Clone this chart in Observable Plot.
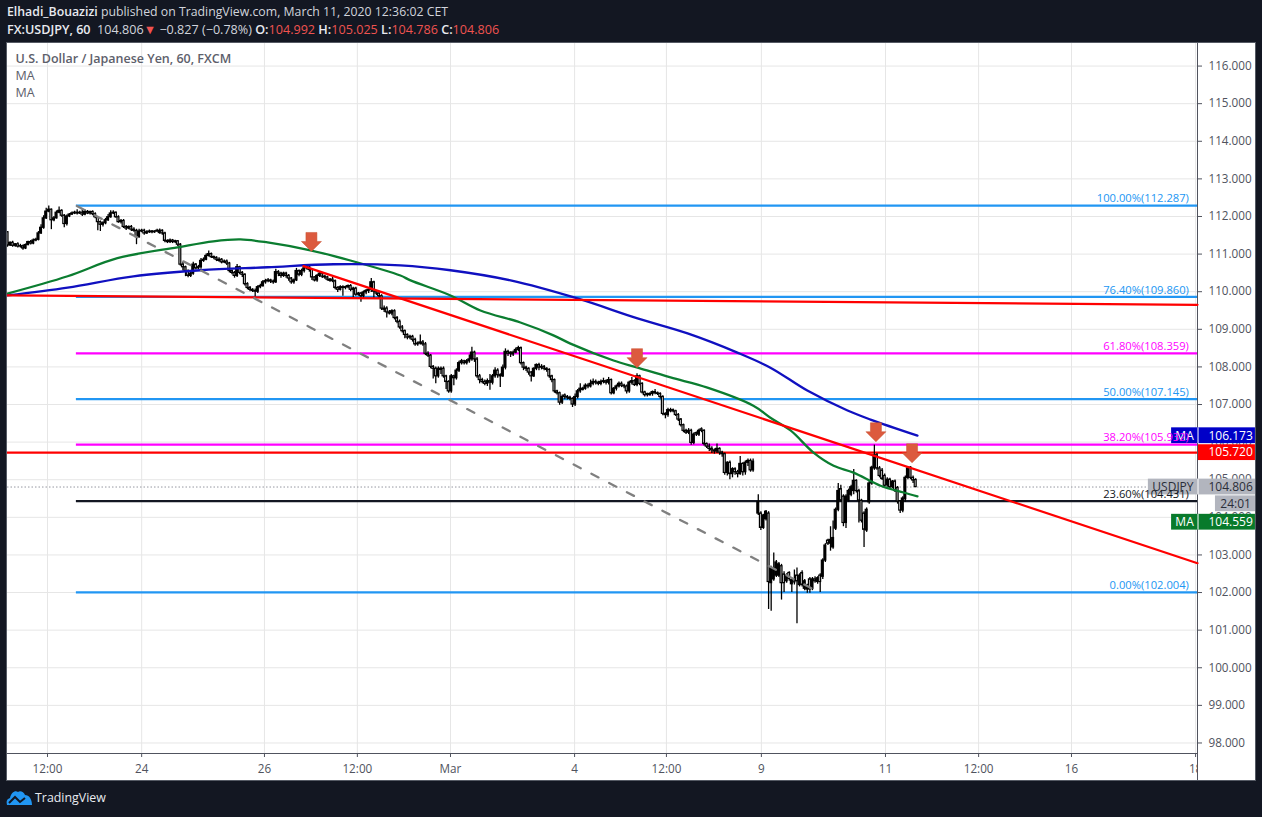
<!DOCTYPE html>
<html><head><meta charset="utf-8">
<script src="https://cdn.jsdelivr.net/npm/d3@7"></script>
<script src="https://cdn.jsdelivr.net/npm/@observablehq/plot@0.6"></script>
<style>
html,body{margin:0;padding:0;background:#131722;width:1262px;height:817px;overflow:hidden;font-family:"Open Sans",sans-serif}
#head{height:43px;box-sizing:border-box;padding:3px 0 0 7px;color:#d1d4dc;font-size:12.3px;line-height:18px;white-space:nowrap}
#head div+div{font-size:12.6px}
#head b{color:#e8eaf0;font-weight:600}#head i{font-style:normal;color:#ef5350}
#chart{margin-left:7px;width:1248px;height:737px;background:#fff;outline:1px solid #555a64;position:relative}
#chart svg{display:block}
#foot{display:flex;align-items:center;padding:9px 0 0 6px;color:#e8eaf0;font-size:12.4px}
#foot svg{margin-right:3px}
</style></head><body>
<div id="head"><div><b>Elhadi_Bouazizi</b> published on TradingView.com, March 11, 2020 12:36:02 CET</div>
<div><b>FX:USDJPY, 60</b>&nbsp; 104.806<i>▼</i> −0.827 (−0.78%) <b>O:</b><i>104.992</i> <b>H:</b><i>105.025</i> <b>L:</b><i>104.786</i> <b>C:</b><i>104.806</i></div></div>
<div id="chart"></div>
<div id="foot"><svg width="26" height="15" viewBox="0 0 26 15"><path d="M1 15C0 11 1 9 4 8C5 3 9 0 12 2C14 0 18 2 19 5C23 5 26 9 26 15Z" fill="#2196f3"/><path d="M3 13L9 7L14 12L19 8" fill="none" stroke="#131722" stroke-width="2"/></svg>TradingView</div>
<script>
const opens=[
111.58,111.23,111.30,111.22,111.26,111.20,111.21,111.15,111.24,111.32,
111.28,111.36,111.38,111.55,111.70,111.95,112.13,112.18,111.90,111.95,
112.10,112.15,112.02,111.80,112.00,112.05,112.08,112.10,112.08,112.10,
112.05,112.12,112.08,112.12,112.06,111.98,111.85,111.78,111.82,111.90,
111.98,112.08,112.10,111.98,111.85,111.88,111.72,111.68,111.72,111.65,
111.62,111.45,111.60,111.62,111.55,111.58,111.60,111.58,111.60,111.56,
111.62,111.55,111.35,111.32,111.36,111.32,111.34,111.25,110.72,110.65,
110.55,110.42,110.48,110.72,110.62,110.65,110.82,110.85,110.95,111.00,
110.92,110.90,110.82,110.85,110.78,110.80,110.75,110.55,110.50,110.42,
110.65,110.50,110.45,110.20,110.10,110.05,110.02,110.00,110.12,110.15,
110.25,110.28,110.30,110.27,110.25,110.52,110.48,110.42,110.48,110.42,
110.35,110.25,110.30,110.55,110.45,110.55,110.62,110.68,110.58,110.38,
110.30,110.42,110.48,110.40,110.38,110.29,110.32,110.28,110.10,110.05,
110.12,110.10,110.12,110.15,110.05,110.08,109.92,109.95,109.88,109.98,
110.02,110.05,110.25,110.00,109.95,109.88,109.52,109.55,109.45,109.42,
109.48,109.30,109.20,109.05,108.95,108.85,108.78,108.80,108.72,108.60,
108.62,108.65,108.60,108.35,108.30,108.00,107.95,107.75,107.92,107.95,
107.75,107.60,107.35,107.75,107.70,107.90,108.10,108.15,108.10,108.15,
108.20,108.38,108.20,107.75,107.65,107.60,107.55,107.62,107.58,107.75,
107.90,107.78,107.75,107.98,108.40,108.35,108.33,108.38,108.45,108.50,
108.10,107.98,107.95,107.85,107.75,107.95,108.05,107.98,108.00,107.95,
107.92,107.75,107.65,107.35,107.30,107.05,107.24,107.20,107.18,107.15,
107.00,107.20,107.35,107.39,107.42,107.50,107.48,107.55,107.60,107.58,
107.55,107.60,107.62,107.58,107.65,107.30,107.42,107.48,107.55,107.50,
107.48,107.35,107.58,107.62,107.52,107.75,107.55,107.32,107.28,107.25,
107.28,107.33,107.30,107.28,107.20,106.75,106.72,106.82,106.85,106.82,
106.72,106.60,106.45,106.30,106.25,106.30,105.98,106.24,106.20,106.34,
106.30,105.95,105.88,105.82,105.78,105.75,105.82,105.72,105.68,105.18,
105.45,105.15,105.28,105.20,105.15,105.42,105.20,105.45,105.50,105.25,
null,104.10,104.10,103.72,103.95,104.10,102.25,102.35,102.45,102.45,
102.70,102.48,102.30,102.52,102.22,102.33,102.45,102.20,102.52,102.10,
102.08,102.35,102.10,102.35,102.28,102.45,102.42,102.85,103.38,103.30,
103.20,103.70,104.20,104.75,104.55,103.85,104.45,104.60,104.70,104.97,
104.70,104.44,104.10,103.65,104.40,104.90,105.30,105.65,105.30,105.24,
105.10,104.85,105.00,104.80,104.95,104.78,104.42,104.18,104.48,105.05,
105.32,105.05,104.992];
const highs=[
111.60,111.32,111.34,111.28,111.30,111.26,111.24,111.27,111.34,111.36,
111.40,111.42,111.60,111.78,112.02,112.22,112.28,112.20,112.00,112.15,
112.25,112.18,112.05,112.04,112.08,112.12,112.14,112.18,112.14,112.18,
112.18,112.16,112.14,112.15,112.10,112.00,111.88,111.86,111.95,112.05,
112.15,112.15,112.12,112.02,111.92,111.92,111.76,111.75,111.76,111.70,
111.66,111.66,111.66,111.66,111.62,111.64,111.63,111.62,111.66,111.67,
111.65,111.58,111.38,111.40,111.39,111.37,111.36,111.28,110.78,110.68,
110.58,110.52,110.78,110.75,110.70,110.88,110.90,111.00,111.08,111.03,
110.95,110.93,110.90,110.88,110.84,110.84,110.78,110.58,110.54,110.72,
110.68,110.54,110.48,110.24,110.14,110.08,110.07,110.16,110.20,110.30,
110.33,110.35,110.33,110.31,110.60,110.56,110.52,110.52,110.52,110.46,
110.38,110.34,110.62,110.58,110.60,110.68,110.72,110.70,110.62,110.40,
110.46,110.52,110.50,110.44,110.41,110.35,110.38,110.31,110.13,110.16,
110.16,110.15,110.18,110.19,110.12,110.12,109.98,109.98,110.02,110.06,
110.10,110.35,110.28,110.03,109.98,109.92,109.62,109.60,109.50,109.52,
109.52,109.34,109.25,109.10,108.98,108.88,108.84,108.84,108.76,108.66,
108.85,108.70,108.65,108.40,108.33,108.04,108.00,108.00,108.00,108.00,
107.78,107.63,107.80,107.78,107.95,108.15,108.20,108.18,108.20,108.32,
108.52,108.42,108.25,107.80,107.70,107.65,107.68,107.80,107.80,107.98,
107.95,107.82,108.05,108.48,108.44,108.40,108.42,108.50,108.55,108.53,
108.13,108.02,107.98,107.88,107.98,108.08,108.10,108.06,108.04,107.98,
107.95,107.78,107.68,107.38,107.33,107.25,107.28,107.24,107.22,107.18,
107.28,107.40,107.55,107.46,107.55,107.55,107.65,107.68,107.65,107.62,
107.65,107.70,107.65,107.72,107.68,107.45,107.52,107.60,107.60,107.54,
107.52,107.62,107.72,107.66,107.82,107.78,107.58,107.35,107.30,107.31,
107.36,107.40,107.33,107.31,107.23,106.78,106.90,106.90,106.88,106.85,
106.76,106.63,106.48,106.34,106.36,106.34,106.24,106.27,106.34,106.38,
106.33,105.98,105.95,105.88,105.82,105.95,105.85,105.76,105.71,105.48,
105.50,105.32,105.32,105.25,105.62,105.45,105.50,105.55,105.55,105.55,
null,104.60,104.15,104.08,104.18,104.15,102.70,103.05,102.85,102.80,
102.75,102.55,102.50,102.55,102.38,102.60,102.65,102.50,102.58,102.35,
102.22,102.40,102.40,102.42,102.42,102.50,102.90,103.30,103.42,103.75,
103.90,104.25,104.90,104.85,104.60,104.60,104.75,104.85,105.27,105.00,
104.75,104.48,104.15,104.25,104.95,105.36,105.92,105.70,105.35,105.30,
105.15,105.05,105.04,104.98,104.99,104.82,104.45,104.55,105.10,105.35,
105.35,105.10,105.025];
const lows=[
111.18,111.20,111.18,111.18,111.16,111.16,111.10,111.12,111.22,111.24,
111.25,111.33,111.35,111.52,111.66,111.92,112.10,111.65,111.86,111.93,
112.07,111.98,111.70,111.75,111.97,112.03,112.05,112.04,112.05,112.00,
112.02,112.05,112.04,112.02,111.94,111.62,111.60,111.72,111.78,111.87,
111.95,112.05,111.95,111.82,111.80,111.68,111.63,111.65,111.60,111.58,
111.25,111.42,111.57,111.50,111.52,111.55,111.54,111.55,111.58,111.53,
111.50,111.30,111.28,111.28,111.28,111.28,111.20,110.68,110.55,110.40,
110.37,110.38,110.44,110.58,110.58,110.60,110.78,110.82,110.92,110.88,
110.85,110.80,110.78,110.74,110.75,110.70,110.50,110.45,110.36,110.38,
110.45,110.38,110.15,110.05,110.00,109.98,109.85,109.95,110.08,110.12,
110.20,110.24,110.22,110.20,110.22,110.40,110.36,110.38,110.36,110.28,
110.20,110.20,110.27,110.40,110.40,110.50,110.58,110.52,110.30,110.26,
110.25,110.38,110.35,110.33,110.28,110.25,110.24,110.05,109.98,110.02,
109.88,110.05,110.08,110.00,109.82,109.88,109.88,109.72,109.80,109.92,
109.95,109.98,109.80,109.90,109.82,109.50,109.45,109.30,109.38,109.36,
109.25,109.15,109.00,108.90,108.75,108.72,108.72,108.66,108.55,108.55,
108.58,108.55,108.30,108.25,107.95,107.68,107.55,107.70,107.80,107.70,
107.40,107.30,107.30,107.50,107.65,107.85,108.05,108.05,108.05,108.10,
108.15,108.12,107.70,107.55,107.55,107.50,107.48,107.38,107.52,107.70,
107.70,107.45,107.72,107.92,108.28,108.25,108.28,108.35,108.40,108.05,
107.90,107.88,107.78,107.60,107.72,107.90,107.90,107.92,107.90,107.86,
107.70,107.58,107.30,107.25,106.98,107.00,107.13,107.12,107.10,106.92,
106.95,107.15,107.30,107.36,107.38,107.42,107.44,107.50,107.52,107.50,
107.50,107.55,107.52,107.52,107.25,107.26,107.36,107.44,107.45,107.42,
107.28,107.30,107.52,107.48,107.47,107.50,107.28,107.20,107.20,107.22,
107.22,107.26,107.24,107.15,106.70,106.62,106.66,106.78,106.78,106.68,
106.55,106.40,106.25,106.20,106.20,105.92,105.93,106.15,106.15,106.25,
105.90,105.83,105.75,105.70,105.68,105.70,105.65,105.60,105.12,105.10,
105.00,105.05,105.12,105.05,105.12,105.10,105.12,105.35,105.20,105.20,
null,104.05,103.65,103.68,103.90,101.55,101.50,102.30,102.40,102.40,
101.80,102.00,102.25,102.30,102.00,102.20,101.17,102.15,102.15,102.05,
101.98,101.98,102.05,102.25,102.22,102.00,102.35,102.80,103.25,103.10,
103.15,103.65,104.15,104.40,103.75,103.70,104.40,104.55,104.60,104.65,
103.85,103.85,103.20,103.60,104.35,104.85,105.25,105.25,105.05,104.98,
104.80,104.80,104.76,104.76,104.66,104.35,104.10,104.12,104.40,105.00,
105.00,104.90,104.786];
const closes=[
111.23,111.30,111.22,111.26,111.20,111.21,111.15,111.24,111.32,111.28,
111.36,111.38,111.55,111.70,111.95,112.13,112.18,111.90,111.95,112.10,
112.15,112.02,111.80,112.00,112.05,112.08,112.10,112.08,112.10,112.05,
112.12,112.08,112.12,112.06,111.98,111.85,111.78,111.82,111.90,111.98,
112.08,112.10,111.98,111.85,111.88,111.72,111.68,111.72,111.65,111.62,
111.45,111.60,111.62,111.55,111.58,111.60,111.58,111.60,111.62,111.62,
111.55,111.35,111.32,111.36,111.32,111.34,111.25,110.72,110.65,110.55,
110.42,110.48,110.72,110.62,110.65,110.82,110.85,110.95,111.00,110.92,
110.90,110.85,110.85,110.78,110.80,110.75,110.55,110.50,110.42,110.65,
110.50,110.45,110.20,110.10,110.05,110.02,110.00,110.12,110.15,110.25,
110.28,110.30,110.27,110.25,110.52,110.48,110.42,110.48,110.42,110.35,
110.25,110.30,110.55,110.45,110.55,110.62,110.68,110.58,110.38,110.30,
110.42,110.48,110.40,110.38,110.32,110.32,110.28,110.10,110.05,110.12,
110.10,110.12,110.15,110.05,110.08,109.92,109.95,109.88,109.98,110.02,
110.05,110.25,110.00,109.95,109.88,109.55,109.55,109.45,109.42,109.48,
109.30,109.20,109.05,108.95,108.85,108.78,108.80,108.72,108.60,108.62,
108.65,108.60,108.35,108.30,108.00,107.95,107.75,107.95,107.95,107.75,
107.60,107.35,107.75,107.70,107.90,108.10,108.15,108.10,108.15,108.20,
108.38,108.20,107.75,107.65,107.60,107.55,107.62,107.58,107.75,107.90,
107.78,107.75,107.98,108.40,108.35,108.38,108.38,108.45,108.50,108.10,
107.98,107.95,107.85,107.75,107.95,108.05,107.98,108.00,107.95,107.92,
107.75,107.65,107.35,107.30,107.05,107.20,107.20,107.18,107.15,107.00,
107.20,107.35,107.42,107.42,107.50,107.48,107.55,107.60,107.58,107.55,
107.60,107.62,107.58,107.65,107.30,107.42,107.48,107.55,107.50,107.48,
107.35,107.58,107.62,107.52,107.75,107.55,107.32,107.25,107.25,107.28,
107.33,107.30,107.28,107.20,106.75,106.72,106.85,106.85,106.82,106.72,
106.60,106.45,106.30,106.25,106.30,105.98,106.20,106.20,106.30,106.30,
105.95,105.88,105.82,105.78,105.75,105.82,105.72,105.68,105.18,105.45,
105.15,105.28,105.20,105.15,105.42,105.20,105.45,105.50,105.25,105.48,
null,104.40,103.72,104.05,104.15,102.28,102.65,102.65,102.80,102.75,
102.25,102.25,102.45,102.36,102.33,102.27,102.30,102.45,102.20,102.30,
102.18,102.08,102.35,102.30,102.38,102.28,102.85,103.25,103.30,103.40,
103.45,104.20,104.70,104.45,103.85,104.55,104.70,104.80,104.97,104.70,
104.44,103.91,103.67,104.20,104.90,105.32,105.65,105.30,105.10,105.02,
104.84,105.00,104.80,104.95,104.70,104.42,104.18,104.50,105.05,105.30,
105.05,104.98,104.806];

const greenBars=[0,23.3,42.6,65.9,79.8,90.3,100.8,117.4,132.9,152.3,156.2,171.7,183.3,198.8,211.6,218.2,234.9,244.2,257,271.3,289.1,295.7,303.5,312.4,320.2,327.9,338.4,347.3,352.7];
const greenMA=[109.95,110.41,110.89,111.18,111.34,111.39,111.31,111.10,110.83,110.43,110.30,109.90,109.50,109.18,108.84,108.62,108.17,107.98,107.72,107.45,106.97,106.65,106.31,105.72,105.37,105.19,104.84,104.66,104.559];
const blueBars=[0,23.3,48.8,74.8,100.8,126.4,152.3,171.7,195,220.9,244.2,263.6,282.9,295.7,310,325.6,334.5,352.7];
const blueMA=[109.90,110.11,110.41,110.57,110.65,110.73,110.70,110.57,110.30,109.82,109.29,108.89,108.38,107.98,107.37,106.84,106.60,106.173];

const fibLabels=["100.00%(112.287)","76.40%(109.860)","61.80%(108.359)","50.00%(107.145)","38.20%(105.932)","23.60%(104.431)","0.00%(102.004)"];
const fibPrices=[112.287,109.860,108.359,107.145,105.932,104.431,102.004];
const fibColors=["#2196f3","#2196f3","#ff00ff","#2196f3","#ff00ff","#131722","#2196f3"];
const fibStart=26.7;

const barEnd=461.24, axisEnd=483.7, priceTop=116.6, priceBottom=97.72, stripBottom=97.0;
const priceTicks=[98,99,100,101,102,103,104,105,106,107,108,109,110,111,112,113,114,115,116];
const timeBars=[15.5,52,99.6,135.6,171.7,219.8,255.4,292.2,340.3,376.4,412.4,460.5];
const timeLabels=["12:00","24","26","12:00","Mar","4","12:00","9","11","12:00","16","18"];

const trendA=[[0,109.90],[barEnd,109.65]];
const trendB=[[114.7,110.68],[barEnd,102.78]];
const dashed=[[26.9,112.28],[314.8,102.0]];
const flatRed=105.72, lastPrice=104.806;

const arrowBars=[117.8,244,336.6,350.6];
const arrowPrices=[111.07,107.98,106.01,105.45];

const tagNames=["MA","","USDJPY","MA"];
const tagValues=["106.173","105.720","104.806","104.559"];
const tagPrices=[106.17,105.72,104.806,103.87];
const tagStart=[451.2,461.6,442.2,451.2];
const tagColors=["#0000c8","#ff0000","#b2b5be","#087a2b"];
const tagInk=["#fff","#fff","#2a2e39","#fff"];
const countdown="24:01", countdownPrice=104.36;
const legend=["U.S. Dollar / Japanese Yen, 60, FXCM","MA","MA"];

const candles=closes.map((c,i)=>({i,o:opens[i],h:highs[i],l:lows[i],c})).filter(d=>d.c!==null);
const fibs=fibPrices.map((p,k)=>({p,label:fibLabels[k],color:fibColors[k]}));
const tags=tagValues.map((v,k)=>({v,name:tagNames[k],p:tagPrices[k],x1:tagStart[k],color:tagColors[k],ink:tagInk[k]}));
const line=(xs,ys)=>xs.map((x,k)=>[x,ys[k]]);
const arrow={draw(ctx){ctx.moveTo(0,0);ctx.lineTo(-10,-10);ctx.lineTo(-5.5,-10);ctx.lineTo(-5.5,-19);ctx.lineTo(5.5,-19);ctx.lineTo(5.5,-10);ctx.lineTo(10,-10);ctx.closePath();}};
const font='"Open Sans",sans-serif', ink="#50535e", gridC="#e6e6e6";

const svg=Plot.plot({
  width:1248,height:737,marginLeft:0,marginRight:58,marginTop:0,marginBottom:27,
  style:{background:"transparent",fontFamily:font,fontSize:"11.7px",color:ink},
  x:{domain:[0,barEnd],axis:null},
  y:{domain:[priceBottom,priceTop],axis:null},
  marks:[
    Plot.gridY(priceTicks,{stroke:gridC,strokeOpacity:1}),
    Plot.gridX(timeBars,{stroke:gridC,strokeOpacity:1}),
    Plot.axisX({ticks:timeBars,tickFormat:d=>timeLabels[timeBars.indexOf(d)],tickSize:4,tickPadding:7,stroke:ink,fill:ink,label:null}),
    Plot.rect([0],{x1:barEnd,x2:axisEnd,y1:stripBottom,y2:priceBottom,fill:"#fff"}),
    Plot.ruleY([priceBottom],{stroke:ink}),
    Plot.ruleX([barEnd],{y1:stripBottom,y2:priceTop,stroke:ink}),
    Plot.axisY({anchor:"right",ticks:priceTicks,tickFormat:d=>d.toFixed(3),tickSize:4,tickPadding:7,stroke:ink,fill:ink,label:null}),
    Plot.ruleY([lastPrice],{x1:0,x2:barEnd,stroke:"#9598a1",strokeDasharray:"1.5,2"}),
    Plot.ruleY(fibs,{y:"p",x1:fibStart,x2:barEnd,stroke:"color",strokeWidth:2.2}),
    Plot.ruleY([flatRed],{x1:0,x2:barEnd,stroke:"#ff0000",strokeWidth:2.2}),
    Plot.ruleX(candles,{x:"i",y1:"l",y2:"h",stroke:"#000",strokeWidth:1.3}),
    Plot.rect(candles,{x1:d=>d.i-0.36,x2:d=>d.i+0.36,y1:"o",y2:"c",fill:d=>d.c<d.o?"#fff":"#000",stroke:"#000",strokeWidth:1.2}),
    Plot.line(line(greenBars,greenMA),{stroke:"#0b7d30",strokeWidth:2.3,curve:"catmull-rom"}),
    Plot.line(line(blueBars,blueMA),{stroke:"#1010c0",strokeWidth:2.3,curve:"catmull-rom"}),
    Plot.line(trendA,{stroke:"#ff0000",strokeWidth:2.2}),
    Plot.line(trendB,{stroke:"#ff0000",strokeWidth:2.2}),
    Plot.line(dashed,{stroke:"#808080",strokeWidth:2.3,strokeDasharray:"8,12"}),
    Plot.dot(arrowBars.map((x,k)=>[x,arrowPrices[k]]),{symbol:arrow,fill:"#dc5a3e",stroke:"#c9502f",strokeWidth:0.5,r:3}),
    Plot.rect(tags,{x1:"x1",x2:axisEnd,y1:d=>d.p-0.21,y2:d=>d.p+0.21,fill:"color"}),
    Plot.ruleX(tags.filter(d=>d.name),{x:barEnd+0.2,y1:d=>d.p-0.21,y2:d=>d.p+0.21,stroke:"#fff"}),
    Plot.text(tags,{x:465.5,y:"p",text:"v",fill:"ink",textAnchor:"start",fontSize:12}),
    Plot.text(tags.filter(d=>d.name),{x:d=>(d.x1+barEnd)/2,y:"p",text:"name",fill:"ink",fontSize:12}),
    Plot.rect([countdown],{x1:468.2,x2:axisEnd,y1:countdownPrice-0.21,y2:countdownPrice+0.21,fill:"#b2b5be"}),
    Plot.text([countdown],{x:476,y:countdownPrice,text:d=>d,fill:"#2a2e39",fontSize:12}),
    Plot.text(fibs,{x:457.9,y:"p",dy:-7,text:"label",fill:"color",textAnchor:"end",fontSize:11.2}),
    Plot.text([legend[0]],{frameAnchor:"top-left",dx:8,dy:11,text:d=>d,fill:"#5d606b",fontSize:12.5,fontWeight:600,lineAnchor:"top"}),
    Plot.text([legend[1]],{frameAnchor:"top-left",dx:8,dy:28,text:d=>d,fill:"#5d606b",fontSize:12.5,lineAnchor:"top"}),
    Plot.text([legend[2]],{frameAnchor:"top-left",dx:8,dy:45,text:d=>d,fill:"#5d606b",fontSize:12.5,lineAnchor:"top"})
  ]
});
document.getElementById("chart").append(svg);
</script></body></html>
